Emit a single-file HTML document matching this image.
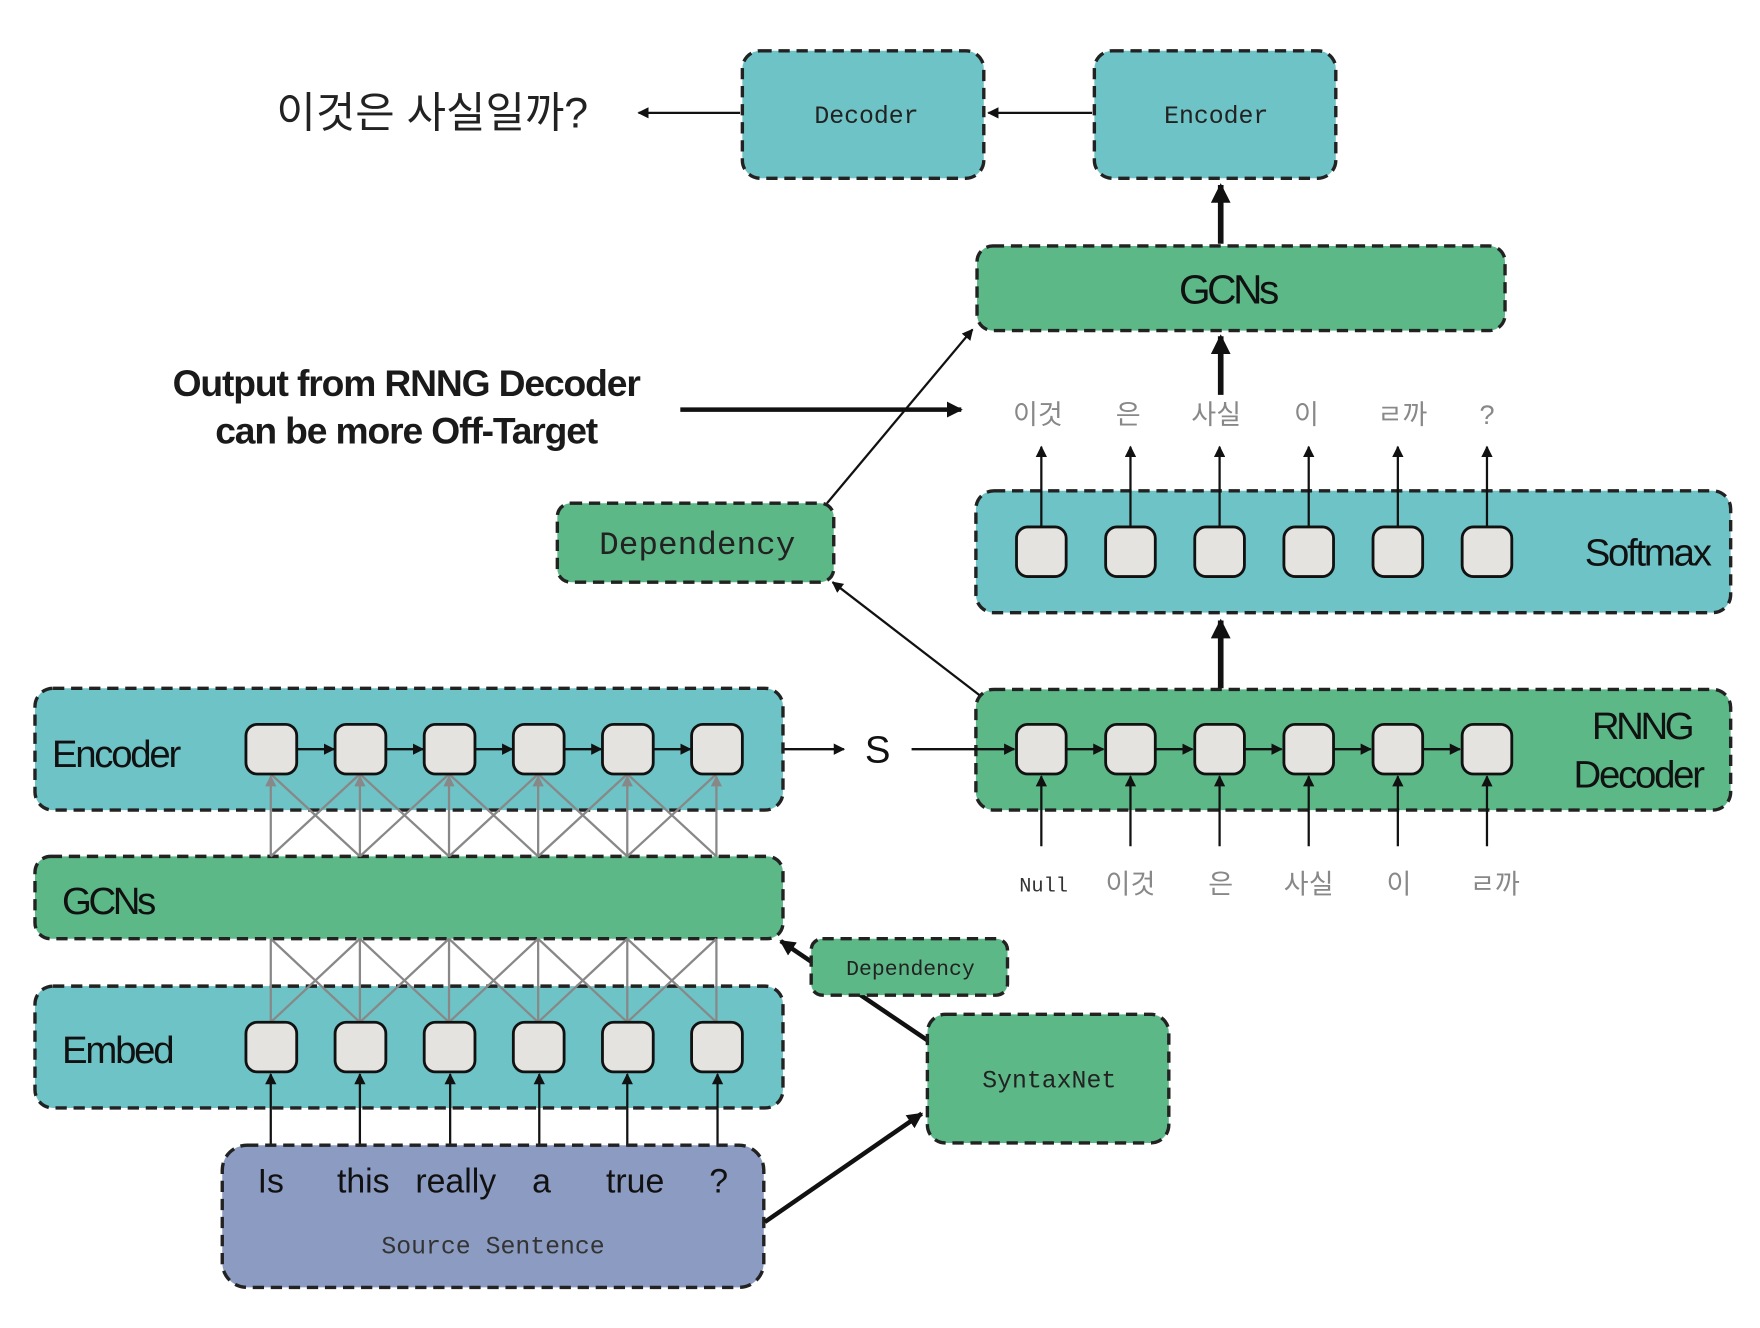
<!DOCTYPE html>
<html><head><meta charset="utf-8"><style>
html,body{margin:0;padding:0;background:#fff;}
svg{display:block;}
.box{stroke:#222;stroke-width:3;stroke-dasharray:10 6;}
.t{fill:#00aab0}
.cell{fill:#e4e3df;stroke:#111;stroke-width:2.5;}
.sans{font-family:"Liberation Sans",sans-serif;}
.mono{font-family:"Liberation Mono",monospace;}
.kr{font-family:"Liberation Sans","Noto Sans CJK KR",sans-serif;}
</style></head><body>
<svg width="1760" height="1328" viewBox="0 0 1560 1177" preserveAspectRatio="none" xmlns="http://www.w3.org/2000/svg">
<defs>
<marker id="a" viewBox="0 0 10 10" refX="9" refY="5" markerWidth="5" markerHeight="5" orient="auto-start-reverse"><path d="M0,0L10,5L0,10z" fill="#111"/></marker>
<marker id="ag" viewBox="0 0 10 10" refX="9" refY="5" markerWidth="5" markerHeight="5" orient="auto"><path d="M0,0L10,5L0,10z" fill="#888"/></marker>
<marker id="ab" viewBox="0 0 10 10" refX="9" refY="5" markerWidth="3.5" markerHeight="3.5" orient="auto"><path d="M0,0L10,5L0,10z" fill="#111"/></marker>
</defs>

<!-- top row -->
<text x="245" y="113" class="kr" font-size="38" fill="#222">이것은 사실일까?</text>
<rect x="658" y="45" width="214" height="113" rx="16" fill="#6ec3c6" class="box"/>
<text x="768" y="109" class="mono" font-size="22" text-anchor="middle" fill="#222">Decoder</text>
<rect x="970" y="45" width="214" height="113" rx="16" fill="#6ec3c6" class="box"/>
<text x="1078" y="109" class="mono" font-size="22" text-anchor="middle" fill="#222">Encoder</text>
<line x1="656" y1="100" x2="566" y2="100" stroke="#111" stroke-width="2" marker-end="url(#a)"/>
<line x1="968" y1="100" x2="876" y2="100" stroke="#111" stroke-width="2" marker-end="url(#a)"/>
<line x1="1082" y1="216" x2="1082" y2="164" stroke="#111" stroke-width="5" marker-end="url(#ab)"/>

<rect x="866" y="218" width="468" height="75" rx="14" fill="#5db887" class="box"/>
<text x="1088" y="269" class="sans" font-size="36" text-anchor="middle" fill="#111" letter-spacing="-3">GCNs</text>
<line x1="1082" y1="350" x2="1082" y2="298" stroke="#111" stroke-width="5" marker-end="url(#ab)"/>

<!-- token output row -->
<g class="kr" font-size="24" fill="#888" text-anchor="middle">
<text x="920" y="376">이것</text><text x="1000" y="376">은</text><text x="1078" y="376">사실</text><text x="1158" y="376">이</text><text x="1243" y="376">ㄹ까</text><text x="1318" y="376">?</text>
</g>

<!-- Softmax -->
<rect x="865" y="435" width="669" height="108" rx="16" fill="#6ec3c6" class="box"/>
<text x="1460" y="501" class="sans" font-size="34" text-anchor="middle" fill="#111" letter-spacing="-2">Softmax</text>
<g stroke="#111" stroke-width="2">
<line x1="923" y1="467" x2="923" y2="396" marker-end="url(#a)"/>
<line x1="1002" y1="467" x2="1002" y2="396" marker-end="url(#a)"/>
<line x1="1081" y1="467" x2="1081" y2="396" marker-end="url(#a)"/>
<line x1="1160" y1="467" x2="1160" y2="396" marker-end="url(#a)"/>
<line x1="1239" y1="467" x2="1239" y2="396" marker-end="url(#a)"/>
<line x1="1318" y1="467" x2="1318" y2="396" marker-end="url(#a)"/>
</g>
<g>
<rect x="901" y="467" width="44" height="44" rx="10" class="cell"/>
<rect x="980" y="467" width="44" height="44" rx="10" class="cell"/>
<rect x="1059" y="467" width="44" height="44" rx="10" class="cell"/>
<rect x="1138" y="467" width="44" height="44" rx="10" class="cell"/>
<rect x="1217" y="467" width="44" height="44" rx="10" class="cell"/>
<rect x="1296" y="467" width="44" height="44" rx="10" class="cell"/>
</g>
<line x1="1082" y1="610" x2="1082" y2="550" stroke="#111" stroke-width="5" marker-end="url(#ab)"/>

<!-- RNNG decoder -->
<rect x="865" y="611" width="669" height="107" rx="16" fill="#5db887" class="box"/>
<text x="1455" y="655" class="sans" font-size="34" text-anchor="middle" fill="#111" letter-spacing="-3">RNNG</text>
<text x="1452" y="698" class="sans" font-size="34" text-anchor="middle" fill="#111" letter-spacing="-2">Decoder</text>
<g stroke="#111" stroke-width="2">
<line x1="808" y1="664" x2="899" y2="664" marker-end="url(#a)"/>
<line x1="945" y1="664" x2="978" y2="664" marker-end="url(#a)"/>
<line x1="1024" y1="664" x2="1057" y2="664" marker-end="url(#a)"/>
<line x1="1103" y1="664" x2="1136" y2="664" marker-end="url(#a)"/>
<line x1="1182" y1="664" x2="1215" y2="664" marker-end="url(#a)"/>
<line x1="1261" y1="664" x2="1294" y2="664" marker-end="url(#a)"/>
<line x1="923" y1="750" x2="923" y2="688" marker-end="url(#a)"/>
<line x1="1002" y1="750" x2="1002" y2="688" marker-end="url(#a)"/>
<line x1="1081" y1="750" x2="1081" y2="688" marker-end="url(#a)"/>
<line x1="1160" y1="750" x2="1160" y2="688" marker-end="url(#a)"/>
<line x1="1239" y1="750" x2="1239" y2="688" marker-end="url(#a)"/>
<line x1="1318" y1="750" x2="1318" y2="688" marker-end="url(#a)"/>
</g>
<rect x="901" y="642" width="44" height="44" rx="10" class="cell"/>
<rect x="980" y="642" width="44" height="44" rx="10" class="cell"/>
<rect x="1059" y="642" width="44" height="44" rx="10" class="cell"/>
<rect x="1138" y="642" width="44" height="44" rx="10" class="cell"/>
<rect x="1217" y="642" width="44" height="44" rx="10" class="cell"/>
<rect x="1296" y="642" width="44" height="44" rx="10" class="cell"/>
<text x="925" y="790" class="mono" font-size="18" text-anchor="middle" fill="#333">Null</text>
<g class="kr" font-size="24" fill="#888" text-anchor="middle">
<text x="1002" y="792">이것</text><text x="1082" y="792">은</text><text x="1160" y="792">사실</text><text x="1240" y="792">이</text><text x="1325" y="792">ㄹ까</text>
</g>

<!-- Output annotation -->
<g class="sans" font-size="33" font-weight="bold" fill="#1a1a1a" text-anchor="middle" letter-spacing="-1">
<text x="360" y="351">Output from RNNG Decoder</text>
<text x="360" y="393">can be more Off-Target</text>
</g>
<line x1="603" y1="363" x2="852" y2="363" stroke="#111" stroke-width="4" marker-end="url(#ab)"/>

<!-- Dependency mid -->
<line x1="733" y1="446" x2="862" y2="292" stroke="#111" stroke-width="2" marker-end="url(#a)"/>
<line x1="868" y1="616" x2="738" y2="516" stroke="#111" stroke-width="2" marker-end="url(#a)"/>
<rect x="494" y="446" width="245" height="70" rx="12" fill="#5db887" class="box"/>
<text x="618" y="491" class="mono" font-size="29" text-anchor="middle" fill="#222">Dependency</text>

<!-- S -->
<text x="778" y="676" class="sans" font-size="34" text-anchor="middle" fill="#111">S</text>
<line x1="658" y1="664" x2="748" y2="664" stroke="#111" stroke-width="2" marker-end="url(#a)"/>

<!-- Left stack -->
<rect x="31" y="610" width="663" height="108" rx="16" fill="#6ec3c6" class="box"/>
<text x="46" y="680" class="sans" font-size="34" fill="#111" letter-spacing="-2">Encoder</text>
<rect x="31" y="759" width="663" height="73" rx="14" fill="#5db887" class="box"/>
<text x="55" y="810" class="sans" font-size="34" fill="#111" letter-spacing="-3">GCNs</text>
<rect x="31" y="874" width="663" height="108" rx="16" fill="#6ec3c6" class="box"/>
<text x="55" y="942" class="sans" font-size="34" fill="#111" letter-spacing="-2">Embed</text>

<!-- gray connections -->
<g stroke="#888" stroke-width="2">
<line x1="240" y1="759" x2="240" y2="688" marker-end="url(#ag)"/><line x1="319" y1="759" x2="319" y2="688" marker-end="url(#ag)"/><line x1="398" y1="759" x2="398" y2="688" marker-end="url(#ag)"/><line x1="477" y1="759" x2="477" y2="688" marker-end="url(#ag)"/><line x1="556" y1="759" x2="556" y2="688" marker-end="url(#ag)"/><line x1="635" y1="759" x2="635" y2="688" marker-end="url(#ag)"/>
<line x1="240" y1="759" x2="319" y2="686"/><line x1="319" y1="759" x2="398" y2="686"/><line x1="398" y1="759" x2="477" y2="686"/><line x1="477" y1="759" x2="556" y2="686"/><line x1="556" y1="759" x2="635" y2="686"/>
<line x1="319" y1="759" x2="240" y2="686"/><line x1="398" y1="759" x2="319" y2="686"/><line x1="477" y1="759" x2="398" y2="686"/><line x1="556" y1="759" x2="477" y2="686"/><line x1="635" y1="759" x2="556" y2="686"/>
<line x1="240" y1="832" x2="240" y2="906"/><line x1="319" y1="832" x2="319" y2="906"/><line x1="398" y1="832" x2="398" y2="906"/><line x1="477" y1="832" x2="477" y2="906"/><line x1="556" y1="832" x2="556" y2="906"/><line x1="635" y1="832" x2="635" y2="906"/>
<line x1="240" y1="906" x2="319" y2="832"/><line x1="319" y1="906" x2="398" y2="832"/><line x1="398" y1="906" x2="477" y2="832"/><line x1="477" y1="906" x2="556" y2="832"/><line x1="556" y1="906" x2="635" y2="832"/>
<line x1="319" y1="906" x2="240" y2="832"/><line x1="398" y1="906" x2="319" y2="832"/><line x1="477" y1="906" x2="398" y2="832"/><line x1="556" y1="906" x2="477" y2="832"/><line x1="635" y1="906" x2="556" y2="832"/>
</g>
<g stroke="#111" stroke-width="2">
<line x1="263" y1="664" x2="296" y2="664" marker-end="url(#a)"/><line x1="342" y1="664" x2="375" y2="664" marker-end="url(#a)"/><line x1="421" y1="664" x2="454" y2="664" marker-end="url(#a)"/><line x1="500" y1="664" x2="533" y2="664" marker-end="url(#a)"/><line x1="579" y1="664" x2="612" y2="664" marker-end="url(#a)"/>
<line x1="240" y1="1015" x2="240" y2="952" marker-end="url(#a)"/><line x1="319" y1="1015" x2="319" y2="952" marker-end="url(#a)"/><line x1="399" y1="1015" x2="399" y2="952" marker-end="url(#a)"/><line x1="478" y1="1015" x2="478" y2="952" marker-end="url(#a)"/><line x1="556" y1="1015" x2="556" y2="952" marker-end="url(#a)"/><line x1="636" y1="1015" x2="636" y2="952" marker-end="url(#a)"/>
</g>
<g>
<rect x="218" y="642" width="45" height="44" rx="10" class="cell"/><rect x="297" y="642" width="45" height="44" rx="10" class="cell"/><rect x="376" y="642" width="45" height="44" rx="10" class="cell"/><rect x="455" y="642" width="45" height="44" rx="10" class="cell"/><rect x="534" y="642" width="45" height="44" rx="10" class="cell"/><rect x="613" y="642" width="45" height="44" rx="10" class="cell"/>
<rect x="218" y="906" width="45" height="44" rx="10" class="cell"/><rect x="297" y="906" width="45" height="44" rx="10" class="cell"/><rect x="376" y="906" width="45" height="44" rx="10" class="cell"/><rect x="455" y="906" width="45" height="44" rx="10" class="cell"/><rect x="534" y="906" width="45" height="44" rx="10" class="cell"/><rect x="613" y="906" width="45" height="44" rx="10" class="cell"/>
</g>

<!-- Source sentence -->
<rect x="197" y="1015" width="480" height="126" rx="22" fill="#8c9bc2" class="box"/>
<g class="sans" font-size="30" fill="#111" text-anchor="middle">
<text x="240" y="1057">Is</text><text x="322" y="1057">this</text><text x="404" y="1057">really</text><text x="480" y="1057">a</text><text x="563" y="1057">true</text><text x="637" y="1057">?</text>
</g>
<text x="437" y="1111" class="mono" font-size="22" text-anchor="middle" fill="#333">Source Sentence</text>

<!-- SyntaxNet & small dependency -->
<line x1="678" y1="1083" x2="817" y2="987" stroke="#111" stroke-width="4" marker-end="url(#ab)"/>
<line x1="822" y1="922" x2="692" y2="834" stroke="#111" stroke-width="4" marker-end="url(#ab)"/>
<rect x="822" y="899" width="214" height="114" rx="16" fill="#5db887" class="box"/>
<text x="930" y="964" class="mono" font-size="22" text-anchor="middle" fill="#222">SyntaxNet</text>
<rect x="719" y="832" width="174" height="50" rx="10" fill="#5db887" class="box"/>
<text x="807" y="864" class="mono" font-size="19" text-anchor="middle" fill="#222">Dependency</text>
</svg>
</body></html>
